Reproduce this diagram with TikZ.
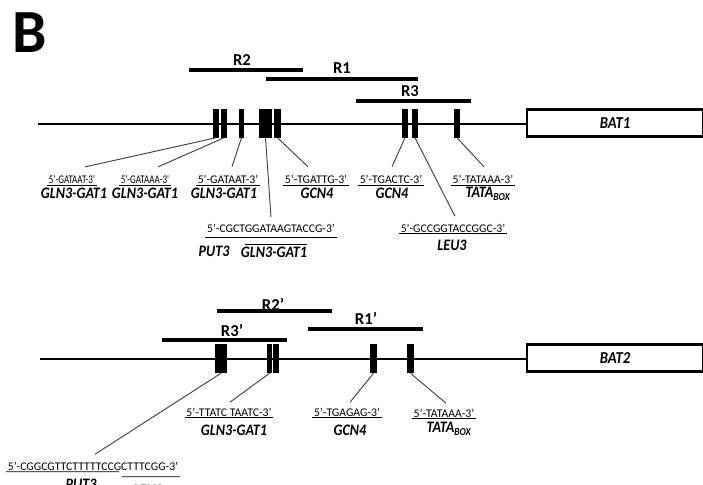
\documentclass[tikz,border=0pt]{standalone}
\usepackage{fontspec}
\setmainfont{Carlito}
\newfontfamily\namefont{Carlito}[FakeStretch=0.88]
\newfontfamily\condfont{Carlito}[FakeStretch=0.77]
\usetikzlibrary{calc}

\begin{document}
\begin{tikzpicture}[
        x=0.75pt, y=-0.75pt,
        seqf/.style={font=\fontsize{8.8}{10}\selectfont, inner sep=1pt},
        seqc/.style={seqf, font=\condfont\fontsize{8.8}{10}\selectfont},
        tf/.style={font=\namefont\fontsize{12}{14}\selectfont\bfseries\itshape, inner sep=1pt},
        reg/.style={font=\fontsize{12.5}{14}\selectfont\bfseries, inner sep=1pt},
        el/.style={fill=black, inner sep=0pt, minimum height=21.75pt,
                   minimum width=#1*0.75pt},
        gene/.style={draw, line width=2pt, fill=white, inner sep=0pt,
                     minimum width=132pt, minimum height=20.5pt,
                     font=\namefont\fontsize{12.5}{14}\selectfont\bfseries\itshape},
        dna/.style={line width=1.8pt},
        bar/.style={line width=3pt},
        lnk/.style={black!75, line width=0.7pt},
        ul/.style={line width=0.7pt}
    ]
        \clip (0,0) rectangle (703,485);
        \node[font=\fontsize{46}{46}\selectfont\bfseries, inner sep=0pt] (panel) at (30,33) {B};

        % BAT1 promoter
        \node[reg] (r2) at (242,60) {R2};
        \node[reg] (r1) at (342,68) {R1};
        \node[reg] (r3) at (410,91) {R3};
        \draw[bar] (189,70) -- (303,70);
        \draw[bar] (266,79) -- (418,79);
        \draw[bar] (356,101) -- (471,101);

        \node[gene] (bat1) at (615,123) {BAT1};
        \coordinate (p1) at (38,124);
        \draw[dna] (p1) -- (bat1.west |- p1);

        \node[el=6] (a1) at (216,123) {};
        \node[el=6] (a2) at (224,123) {};
        \node[el=5] (a3) at (241.5,123) {};
        \node[el=13] (a4) at (265.5,123) {};
        \node[el=7] (a5) at (277.5,123) {};
        \node[el=6] (a6) at (405,123) {};
        \node[el=6] (a7) at (415,123) {};
        \node[el=6] (a8) at (457,123) {};

        \node[seqc] (s1) at (72,179.5) {5'-GATAAT-3'};
        \node[tf] (t1) at (74,193) {GLN3-GAT1};
        \node[seqc] (s2) at (145,179.5) {5'-GATAAA-3'};
        \node[tf] (t2) at (145,193) {GLN3-GAT1};
        \node[seqf] (s3) at (228,179.5) {5'-GATAAT-3'};
        \node[tf] (t3) at (224,193) {GLN3-GAT1};
        \node[seqf] (s4) at (316,179.5) {5'-TGATTG-3'};
        \node[tf] (t4) at (317,193) {GCN4};
        \node[seqf] (s6) at (391,179.5) {5'-TGACTC-3'};
        \node[tf] (t6) at (392,193) {GCN4};
        \node[seqf] (s8) at (483,179.5) {5'-TATAAA-3'};
        \node[tf] (t8) at (488,194) {TATA\textsubscript{BOX}};
        \node[seqf] (sp) at (271,228) {5'-CGCTGGATAAGTACCG-3'};
        \node[tf] (tp1) at (214,251) {PUT3};
        \node[tf] (tp2) at (274,252) {GLN3-GAT1};
        \node[seqf] (sl) at (453,228) {5'-GCCGGTACCGGC-3'};
        \node[tf] (tl) at (452,245) {LEU3};

        \foreach \s in {s1,s2,s3,s4,s6,s8,sl}
            \draw[ul] (\s.south west) -- (\s.south east);
        \draw[ul] ($(sp.south west)+(0,4)$) -- ($(sp.south east)+(0,4)$);
        \draw[ul] ($(tp2.north west)+(6,-1)$) -- ($(tp2.north east)+(-2,-1)$);

        \draw[lnk] (a1.south) -- ($(s1.north)+(13,-7)$);
        \draw[lnk] (a2.south) -- ($(s2.north)+(13,-7)$);
        \draw[lnk] (a3.south) -- ($(s3.north)+(4,-7)$);
        \draw[lnk] (a4.south) -- ($(sp.north)+(0,-5)$);
        \draw[lnk] (a5.south) -- ($(s4.north)+(-8,-7)$);
        \draw[lnk] (a6.south) -- ($(s6.north)+(1,-7)$);
        \draw[lnk] (a7.south) -- ($(sl.north)+(2,-6)$);
        \draw[lnk] (a8.south) -- ($(s8.north)+(1,-7)$);

        % BAT2 promoter
        \node[reg] (r2p) at (273,304) {R2’};
        \node[reg] (r1p) at (366,318) {R1’};
        \node[reg] (r3p) at (232,330) {R3’};
        \draw[bar] (217,311) -- (332,311);
        \draw[bar] (308,329) -- (423,329);
        \draw[bar] (162,340) -- (287,340);

        \node[gene] (bat2) at (615,358) {BAT2};
        \coordinate (p2) at (40,359);
        \draw[dna] (p2) -- (bat2.west |- p2);

        \node[el=12] (b1) at (221,358.5) {};
        \node[el=5] (b2) at (269.5,358.5) {};
        \node[el=6] (b3) at (276,358.5) {};
        \node[el=7] (b4) at (373.5,358.5) {};
        \node[el=7] (b5) at (410.5,358.5) {};

        \node[seqf] (u2) at (229,412) {5'-TTATC TAATC-3'};
        \node[tf] (v2) at (234,430) {GLN3-GAT1};
        \node[seqf] (u4) at (347,412) {5'-TGAGAG-3'};
        \node[tf] (v4) at (350,430) {GCN4};
        \node[seqf] (u5) at (444,413) {5'-TATAAA-3'};
        \node[tf] (v5) at (449,429) {TATA\textsubscript{BOX}};
        \node[seqf] (u1) at (93,466) {5'-CGGCGTTCTTTTTCCGCTTTCGG-3'};
        \node[tf] (v1) at (81,484) {PUT3};
        \node[tf] (w1) at (148,490) {LEU3};

        \foreach \s in {u2,u4,u5}
            \draw[ul] (\s.south west) -- (\s.south east);
        \draw[ul] (u1.south west) -- ($(u1.south west)!0.65!(u1.south east)$);
        \draw[ul] ($(u1.south west)!0.665!(u1.south east)+(0,5)$) -- ($(u1.south east)+(0,5)$);

        \draw[lnk] (b1.south) -- ($(u1.north)+(2,-6)$);
        \draw[lnk] (b2.south) -- ($(u2.north)+(1,-4)$);
        \draw[lnk] (b4.south) -- ($(u4.north)+(3,-4)$);
        \draw[lnk] (b5.south) -- ($(u5.north)+(2,-4)$);
    \end{tikzpicture}
\end{document}
